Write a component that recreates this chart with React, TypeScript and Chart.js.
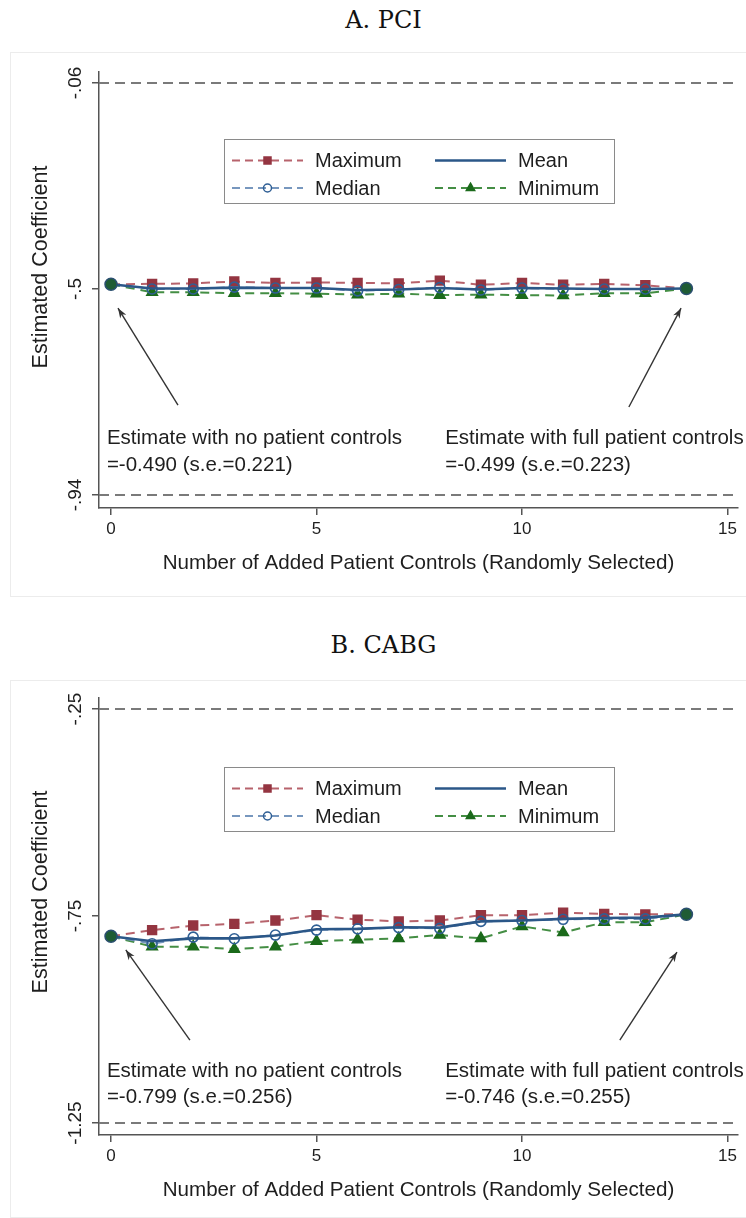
import React, { useEffect, useRef } from "react";
import { Chart, registerables } from "chart.js";

Chart.register(...registerables);

// ---------- data ----------
const xValues = [0, 1, 2, 3, 4, 5, 6, 7, 8, 9, 10, 11, 12, 13, 14];
const xTicks = [0, 5, 10, 15];
const xTitle = "Number of Added Patient Controls (Randomly Selected)";
const yTitle = "Estimated Coefficient";
const seriesLabels = ["Maximum", "Mean", "Median", "Minimum"];

// Panel A. PCI
const pciMaximum = [-0.49, -0.489, -0.488, -0.484, -0.487, -0.486, -0.487, -0.488, -0.482, -0.491, -0.487, -0.491, -0.489, -0.492, -0.499];
const pciMean = [-0.49, -0.499, -0.499, -0.497, -0.498, -0.498, -0.502, -0.501, -0.498, -0.501, -0.498, -0.499, -0.5, -0.5, -0.499];
const pciMedian = [-0.49, -0.5, -0.5, -0.496, -0.498, -0.498, -0.504, -0.501, -0.497, -0.502, -0.498, -0.5, -0.5, -0.5, -0.499];
const pciMinimum = [-0.49, -0.507, -0.507, -0.509, -0.509, -0.51, -0.512, -0.51, -0.513, -0.512, -0.513, -0.514, -0.509, -0.509, -0.499];
const pciYTicks = [-0.06, -0.5, -0.94];
const pciYTickLabels = ["-.06", "-.5", "-.94"];
const pciRefLines = [-0.06, -0.94];
const pciNoControls = ["Estimate with no patient controls", "=-0.490 (s.e.=0.221)"];
const pciFullControls = ["Estimate with full patient controls", "=-0.499 (s.e.=0.223)"];

// Panel B. CABG
const cabgMaximum = [-0.799, -0.784, -0.773, -0.769, -0.761, -0.748, -0.759, -0.763, -0.761, -0.748, -0.748, -0.742, -0.745, -0.746, -0.746];
const cabgMean = [-0.799, -0.811, -0.804, -0.804, -0.797, -0.782, -0.781, -0.777, -0.778, -0.763, -0.761, -0.757, -0.755, -0.754, -0.746];
const cabgMedian = [-0.799, -0.817, -0.801, -0.805, -0.796, -0.784, -0.781, -0.778, -0.78, -0.763, -0.761, -0.758, -0.757, -0.757, -0.746];
const cabgMinimum = [-0.799, -0.824, -0.824, -0.83, -0.824, -0.811, -0.807, -0.804, -0.796, -0.804, -0.775, -0.79, -0.765, -0.765, -0.746];
const cabgYTicks = [-0.25, -0.75, -1.25];
const cabgYTickLabels = ["-.25", "-.75", "-1.25"];
const cabgRefLines = [-0.25, -1.25];
const cabgNoControls = ["Estimate with no patient controls", "=-0.799 (s.e.=0.256)"];
const cabgFullControls = ["Estimate with full patient controls", "=-0.746 (s.e.=0.255)"];

// ---------- styles ----------
const SANS = "'Liberation Sans', Arial, Helvetica, sans-serif";
const SERIF = "'DejaVu Serif', 'Liberation Serif', serif";
const TEXT = "#1e1e1e";
const AXIS = "#555555";
const CANVAS_W = 736;
const X_MIN = -0.292;
const X_MAX = 15.255;

const STYLE = {
  Maximum: { line: "rgba(170,72,82,0.85)", marker: "#943541", dash: [9, 6], width: 2, shape: "rect", r: 6.2, fill: true },
  Median: { line: "rgba(104,140,183,0.9)", marker: "#2f5f95", dash: [9, 6], width: 2, shape: "circle", r: 5, fill: false },
  Mean: { line: "#2b5788", marker: "#2b5788", dash: [], width: 2.6, shape: "none", r: 0, fill: false },
  Minimum: { line: "rgba(48,130,48,0.9)", marker: "#1b6a1b", dash: [9, 6], width: 2, shape: "triangle", r: 6, fill: true },
};

type PanelCfg = {
  title: string;
  max: number[];
  mean: number[];
  median: number[];
  min: number[];
  yTicks: number[];
  yTickLabels: string[];
  refLines: number[];
  yMin: number;
  yMax: number;
  height: number;
  topPad: number;
  chartBottom: number;
  noteLeft: string[];
  noteRight: string[];
  noteY: number;
  noteLeftX: number;
  noteRightX: number;
  noteGap: number;
  arrows: number[][];
  yTitleY: number;
};

const pciCfg: PanelCfg = {
  title: "A. PCI",
  max: pciMaximum,
  mean: pciMean,
  median: pciMedian,
  min: pciMinimum,
  yTicks: pciYTicks,
  yTickLabels: pciYTickLabels,
  refLines: pciRefLines,
  yMin: -0.9678,
  yMax: -0.0365,
  height: 545,
  topPad: 20,
  chartBottom: 456,
  noteLeft: pciNoControls,
  noteRight: pciFullControls,
  noteY: -0.818,
  noteLeftX: -0.1,
  noteRightX: 8.13,
  noteGap: 27,
  arrows: [
    [1.63, -0.748, 0.17, -0.541],
    [12.6, -0.752, 13.87, -0.541],
  ],
  yTitleY: 215,
};

const cabgCfg: PanelCfg = {
  title: "B. CABG",
  max: cabgMaximum,
  mean: cabgMean,
  median: cabgMedian,
  min: cabgMinimum,
  yTicks: cabgYTicks,
  yTickLabels: cabgYTickLabels,
  refLines: cabgRefLines,
  yMin: -1.279,
  yMax: -0.2234,
  height: 538,
  topPad: 18,
  chartBottom: 455,
  noteLeft: cabgNoControls,
  noteRight: cabgFullControls,
  noteY: -1.1244,
  noteLeftX: -0.1,
  noteRightX: 8.13,
  noteGap: 26,
  arrows: [
    [1.92, -1.05, 0.36, -0.832],
    [12.38, -1.05, 13.77, -0.837],
  ],
  yTitleY: 212,
};

function drawMarker(ctx: CanvasRenderingContext2D, shape: string, x: number, y: number, r: number, color: string, fill: boolean) {
  ctx.save();
  ctx.strokeStyle = color;
  ctx.fillStyle = color;
  ctx.lineWidth = 1.5;
  ctx.setLineDash([]);
  ctx.beginPath();
  if (shape === "rect") {
    const s = r * Math.SQRT1_2;
    ctx.rect(x - s, y - s, 2 * s, 2 * s);
  } else if (shape === "circle") {
    ctx.arc(x, y, r, 0, Math.PI * 2);
  } else if (shape === "triangle") {
    ctx.moveTo(x, y - r);
    ctx.lineTo(x + r * 0.87, y + r * 0.5);
    ctx.lineTo(x - r * 0.87, y + r * 0.5);
    ctx.closePath();
  }
  if (fill) ctx.fill();
  ctx.stroke();
  ctx.restore();
}

function makeOverlay(cfg: PanelCfg) {
  return {
    id: "overlay",
    afterDraw(chart: any) {
      const { ctx, chartArea } = chart;
      const xs = chart.scales.x;
      const ys = chart.scales.y;
      ctx.save();
      ctx.fillStyle = TEXT;

      // y tick labels (rotated)
      ctx.font = `19px ${SANS}`;
      ctx.textAlign = "center";
      ctx.textBaseline = "middle";
      cfg.yTicks.forEach((v, i) => {
        const py = ys.getPixelForValue(v);
        ctx.save();
        ctx.translate(66, py);
        ctx.rotate(-Math.PI / 2);
        ctx.fillText(cfg.yTickLabels[i], 0, 0);
        ctx.restore();
      });

      // y title
      ctx.font = `21.5px ${SANS}`;
      ctx.save();
      ctx.translate(31, cfg.yTitleY);
      ctx.rotate(-Math.PI / 2);
      ctx.fillText(yTitle, 0, 0);
      ctx.restore();

      // x title
      ctx.font = `20.6px ${SANS}`;
      ctx.fillText(xTitle, (chartArea.left + chartArea.right) / 2, chartArea.bottom + 55);

      // notes
      ctx.font = `20.5px ${SANS}`;
      ctx.textAlign = "left";
      const ny = ys.getPixelForValue(cfg.noteY);
      cfg.noteLeft.forEach((t, i) => ctx.fillText(t, xs.getPixelForValue(cfg.noteLeftX), ny + i * cfg.noteGap));
      cfg.noteRight.forEach((t, i) => ctx.fillText(t, xs.getPixelForValue(cfg.noteRightX), ny + i * cfg.noteGap));

      // arrows
      ctx.strokeStyle = "#333";
      ctx.fillStyle = "#333";
      ctx.lineWidth = 1.4;
      cfg.arrows.forEach(([x1, y1, x2, y2]) => {
        const ax = xs.getPixelForValue(x1);
        const ay = ys.getPixelForValue(y1);
        const bx = xs.getPixelForValue(x2);
        const by = ys.getPixelForValue(y2);
        ctx.beginPath();
        ctx.moveTo(ax, ay);
        ctx.lineTo(bx, by);
        ctx.stroke();
        const ang = Math.atan2(by - ay, bx - ax);
        const L = 10;
        const W = 3.6;
        ctx.beginPath();
        ctx.moveTo(bx, by);
        ctx.lineTo(bx - L * Math.cos(ang) + W * Math.sin(ang), by - L * Math.sin(ang) - W * Math.cos(ang));
        ctx.lineTo(bx - L * 0.7 * Math.cos(ang), by - L * 0.7 * Math.sin(ang));
        ctx.lineTo(bx - L * Math.cos(ang) - W * Math.sin(ang), by - L * Math.sin(ang) + W * Math.cos(ang));
        ctx.closePath();
        ctx.fill();
      });

      // legend
      const bx0 = 214.5;
      const by0 = 87.5;
      const bw = 390;
      const bh = 64;
      ctx.fillStyle = "#fff";
      ctx.fillRect(bx0, by0, bw, bh);
      ctx.strokeStyle = "#8a8a8a";
      ctx.lineWidth = 1;
      ctx.strokeRect(bx0, by0, bw, bh);
      const cols = [
        { sx: 222, ex: 293, tx: 305 },
        { sx: 425, ex: 496, tx: 508 },
      ];
      const rows = [108.5, 136];
      const grid = [
        [seriesLabels[0], seriesLabels[1]],
        [seriesLabels[2], seriesLabels[3]],
      ];
      ctx.font = `20px ${SANS}`;
      ctx.textBaseline = "middle";
      grid.forEach((row, ri) => {
        row.forEach((lab, ci) => {
          const st = (STYLE as any)[lab];
          const c = cols[ci];
          const y = rows[ri];
          ctx.save();
          ctx.strokeStyle = st.line;
          ctx.lineWidth = st.width;
          ctx.setLineDash(st.dash.length ? [8, 5] : []);
          ctx.beginPath();
          ctx.moveTo(c.sx, y);
          ctx.lineTo(c.ex, y);
          ctx.stroke();
          ctx.restore();
          if (st.shape !== "none") drawMarker(ctx, st.shape, (c.sx + c.ex) / 2, y, st.r * 0.8, st.marker, st.fill);
          ctx.fillStyle = TEXT;
          ctx.textAlign = "left";
          ctx.fillText(lab, c.tx, y + 1);
        });
      });
      ctx.restore();
    },
  };
}

function pts(vals: number[]) {
  return vals.map((v, i) => ({ x: xValues[i], y: v }));
}

function seriesDataset(label: string, vals: number[]) {
  const st = (STYLE as any)[label];
  const last = vals.length - 1;
  return {
    label,
    data: pts(vals),
    borderColor: st.line,
    borderWidth: st.width,
    borderDash: st.dash,
    pointStyle: st.shape === "rect" ? "rect" : st.shape === "triangle" ? "triangle" : "circle",
    pointRadius: (c: any) => (st.shape === "none" || c.dataIndex === 0 || c.dataIndex === last ? 0 : st.r),
    pointBackgroundColor: st.fill ? st.marker : "rgba(255,255,255,0)",
    pointBorderColor: st.marker,
    pointBorderWidth: 1.6,
    tension: 0,
    fill: false,
  };
}

function Panel({ cfg, top }: { cfg: PanelCfg; top: number }) {
  const ref = useRef<HTMLCanvasElement | null>(null);
  useEffect(() => {
    if (!ref.current) return;
    const ends = [0, cfg.mean.length - 1];
    const datasets: any[] = [
      {
        label: "ends",
        data: ends.map((i) => ({ x: xValues[i], y: cfg.mean[i] })),
        showLine: false,
        pointRadius: 6,
        pointBackgroundColor: "#1f5c34",
        pointBorderColor: "#2a4f70",
        pointBorderWidth: 1.5,
      },
      seriesDataset("Mean", cfg.mean),
      seriesDataset("Median", cfg.median),
      seriesDataset("Maximum", cfg.max),
      seriesDataset("Minimum", cfg.min),
      ...cfg.refLines.map((v) => ({
        label: "ref",
        data: [
          { x: X_MIN, y: v },
          { x: X_MAX, y: v },
        ],
        borderColor: "#7a7a7a",
        borderWidth: 2,
        borderDash: [10, 6],
        pointRadius: 0,
      })),
    ];
    const chart = new Chart(ref.current, {
      type: "line",
      data: { datasets },
      options: {
        responsive: false,
        animation: false,
        layout: { padding: { left: 0, right: CANVAS_W - 728, top: cfg.topPad, bottom: 0 } },
        plugins: { legend: { display: false }, tooltip: { enabled: false } },
        scales: {
          x: {
            type: "linear",
            min: X_MIN,
            max: X_MAX,
            afterBuildTicks: (s: any) => {
              s.ticks = xTicks.map((v) => ({ value: v }));
            },
            afterFit: (s: any) => {
              s.height = cfg.height - cfg.chartBottom;
            },
            ticks: { font: { family: SANS, size: 17 }, color: TEXT, padding: 4, maxRotation: 0 },
            grid: { display: true, drawOnChartArea: false, drawTicks: true, tickLength: 7, color: AXIS, lineWidth: 1.5 },
            border: { display: true, color: AXIS, width: 1.5 },
          },
          y: {
            type: "linear",
            min: cfg.yMin,
            max: cfg.yMax,
            afterBuildTicks: (s: any) => {
              s.ticks = cfg.yTicks.map((v) => ({ value: v }));
            },
            afterFit: (s: any) => {
              s.width = 89;
            },
            ticks: { display: false },
            grid: { display: true, drawOnChartArea: false, drawTicks: true, tickLength: 7, color: AXIS, lineWidth: 1.5 },
            border: { display: true, color: AXIS, width: 1.5 },
          },
        },
      } as any,
      plugins: [makeOverlay(cfg)],
    });
    return () => chart.destroy();
  }, [cfg]);
  return (
    <>
      <div
        style={{
          position: "absolute",
          left: 10,
          top,
          width: 760,
          height: cfg.height,
          border: "1px solid #ececec",
          boxSizing: "border-box",
        }}
      />
      <canvas
        ref={ref}
        width={CANVAS_W}
        height={cfg.height}
        style={{ position: "absolute", left: 10, top, width: CANVAS_W, height: cfg.height, display: "block" }}
      />
    </>
  );
}

function Title({ text, cy }: { text: string; cy: number }) {
  return (
    <div
      style={{
        position: "absolute",
        left: 0,
        width: 767,
        top: cy - 15,
        height: 30,
        lineHeight: "30px",
        textAlign: "center",
        fontFamily: SERIF,
        fontSize: 24,
        color: "#111",
      }}
    >
      {text}
    </div>
  );
}

export default function App() {
  return (
    <div style={{ position: "absolute", left: 0, top: 0, width: 746, height: 1218, overflow: "hidden", background: "#fff" }}>
      <Title text={pciCfg.title} cy={20} />
      <Panel cfg={pciCfg} top={52} />
      <Title text={cabgCfg.title} cy={645} />
      <Panel cfg={cabgCfg} top={680} />
    </div>
  );
}
